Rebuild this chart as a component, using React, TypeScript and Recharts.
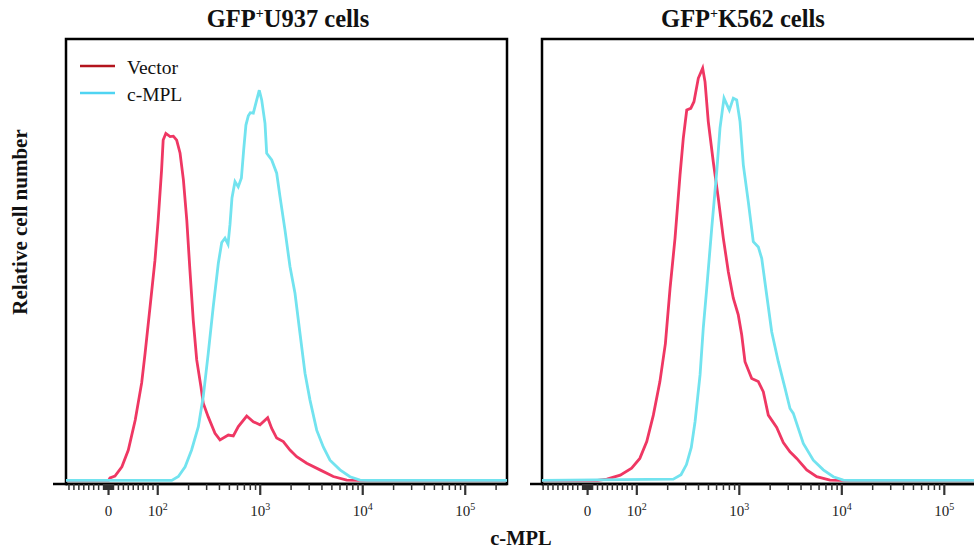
import { Line, LineChart, ReferenceArea, XAxis, YAxis } from "recharts";

// fluorescence intensity, relative cell number (0 = baseline, 100 = top of frame)
const U937_VECTOR: [number, number][] = [
  [-100, 0], [0, 0], [3, 0.6], [13, 1.0], [27, 3.1], [40, 6.9], [54, 13.7], [67, 22.1],
  [74, 28.9], [84, 39.4], [94, 49.9], [101, 59.0], [109, 70.3], [113, 77.1], [120, 78.6],
  [132, 77.9], [142, 78.0], [153, 77.1], [165, 74.2], [178, 68.1], [192, 59.0], [206, 47.7],
  [222, 36.3], [240, 27.3], [264, 21.2], [278, 17.5], [311, 14.4], [362, 10.7], [405, 9.2],
  [488, 10.3], [546, 10.1], [611, 12.2], [738, 14.6], [856, 13.3], [995, 12.6], [1182, 14.2],
  [1294, 11.8], [1447, 9.6], [1679, 8.8], [1952, 6.9], [2269, 5.4], [2840, 3.9], [3828, 2.4],
  [5161, 0.9], [6973, 0.1], [9404, 0], [300000, 0],
];

const U937_CMPL: [number, number][] = [
  [-100, 0], [137, 0], [159, 0.9], [185, 3.1], [214, 6.9], [249, 12.2], [278, 19.0], [311, 28.8],
  [348, 39.4], [390, 49.2], [421, 53.9], [453, 54.9], [485, 53.5], [507, 58.0], [530, 64.0],
  [567, 67.7], [610, 66.5], [655, 68.5], [690, 75.0], [725, 80.5], [765, 82.6], [800, 83.3],
  [856, 83.2], [924, 86.2], [979, 88.4], [1033, 86.2], [1113, 80.9], [1156, 74.1], [1294, 72.6],
  [1447, 69.6], [1559, 64.3], [1744, 56.7], [1952, 48.4], [2183, 42.4], [2443, 33.3],
  [2734, 24.3], [3058, 18.2], [3555, 11.4], [4123, 7.6], [4793, 4.6], [6000, 2.4], [7511, 0.85],
  [9404, 0.1], [11180, 0], [300000, 0],
];

const K562_VECTOR: [number, number][] = [
  [-100, 0], [20, 0], [39, 0.3], [66, 1.2], [89, 2.8], [107, 5.0], [125, 8.8], [145, 14.8],
  [168, 22.4], [190, 31.0], [211, 43.5], [236, 54.9], [264, 69.2], [284, 77.5], [307, 83.9],
  [336, 84.3], [361, 85.8], [398, 91.1], [439, 93.4], [463, 90.3], [498, 81.3], [557, 72.2],
  [624, 63.9], [698, 54.9], [781, 47.3], [874, 41.3], [977, 37.5], [1055, 33.0], [1136, 26.9],
  [1321, 23.1], [1532, 22.4], [1714, 20.1], [1918, 14.8], [2316, 12.0], [2686, 8.6],
  [3122, 6.5], [3630, 5.0], [4544, 2.4], [5689, 0.85], [7670, 0.1], [9602, 0], [300000, 0],
];

const K562_CMPL: [number, number][] = [
  [-100, 0], [227, 0.3], [270, 1.3], [305, 3.6], [340, 7.5], [370, 13.3], [414, 23.9],
  [445, 34.5], [481, 43.5], [538, 57.1], [602, 69.9], [648, 79.8], [709, 86.6], [799, 83.9],
  [874, 86.6], [943, 86.2], [1016, 81.3], [1094, 71.5], [1224, 63.1], [1369, 54.1],
  [1532, 52.9], [1654, 50.3], [1850, 42.0], [2070, 33.7], [2401, 26.9], [2791, 20.9],
  [3122, 16.3], [3364, 15.2], [4210, 8.4], [5271, 4.6], [6597, 2.4], [8259, 0.85],
  [10340, 0.1], [12000, 0], [300000, 0],
];

const MAJOR_TICKS = [0, 100, 1000, 10000, 100000];
const MINOR_STEPS = [1, 2, 3, 4, 5, 6, 7, 8, 9];
const DECADES = [1, 10, 100, 1000, 10000, 100000];

const VECTOR_COLOR = "#ef3763";
const CMPL_COLOR = "#72e3ef";
const FONT = "'Liberation Serif', 'Times New Roman', serif";
const AXIS_Y = 484;

// biexponential-like display transform: linear around zero, log10 above LIN
const LIN = 90;
const P0 = Math.log10(LIN) - 1 / Math.LN10;
function pos(v: number) {
  if (v >= LIN) return Math.log10(v);
  if (v <= -LIN) return 2 * P0 - Math.log10(-v);
  return P0 + v / (LIN * Math.LN10);
}

const T_SPAN = 441 / 102.5;

function buildTicks(tMin: number) {
  const vals: number[] = [...MAJOR_TICKS];
  DECADES.forEach((d) =>
    MINOR_STEPS.forEach((s) => {
      vals.push(d * s);
      if (d < 100) vals.push(-d * s);
    })
  );
  vals.push(200000);
  const ts = Array.from(new Set(vals)).map(pos);
  return ts.filter((t) => t >= tMin && t <= tMin + T_SPAN).sort((a, b) => a - b);
}

function AxisTick(props: any) {
  const { x, payload } = props;
  const major = MAJOR_TICKS.find((m) => Math.abs(pos(m) - payload.value) < 1e-6);
  const isMajor = major !== undefined;
  return (
    <g>
      <line
        x1={x}
        x2={x}
        y1={AXIS_Y}
        y2={AXIS_Y + (isMajor ? 11 : 6)}
        stroke="#333"
        strokeWidth={isMajor ? 2.2 : 1.5}
      />
      {isMajor && (
        <text x={x} y={AXIS_Y + 32} textAnchor="middle" fontFamily={FONT} fontSize={15} fill="#222">
          {major === 0 ? (
            "0"
          ) : (
            <>
              10
              <tspan dy={-6} fontSize={10}>
                {Math.round(Math.log10(major))}
              </tspan>
            </>
          )}
        </text>
      )}
    </g>
  );
}

function toRows(arr: [number, number][]) {
  return arr.map(([v, n]) => ({ t: pos(v), n }));
}

function Panel({
  left,
  tMin,
  vector,
  cmpl,
}: {
  left: number;
  tMin: number;
  vector: [number, number][];
  cmpl: [number, number][];
}) {
  const tMax = tMin + T_SPAN;
  return (
    <div style={{ position: "absolute", left, top: 0 }}>
      <LineChart width={520} height={530} margin={{ top: 39, right: 13, bottom: 16, left: 66 }}>
        <XAxis
          type="number"
          dataKey="t"
          domain={[tMin, tMax]}
          allowDataOverflow
          ticks={buildTicks(tMin)}
          interval={0}
          tickLine={false}
          tickSize={0}
          tickMargin={0}
          tick={<AxisTick />}
          height={30}
          axisLine={{ stroke: "#000", strokeWidth: 2.5 }}
        />
        <YAxis type="number" domain={[-0.8, 100]} hide width={0} allowDataOverflow />
        <ReferenceArea
          x1={tMin}
          x2={tMax}
          y1={-0.8}
          y2={100}
          fill="none"
          stroke="#000"
          strokeWidth={2.5}
          ifOverflow="visible"
        />
        <Line
          data={toRows(vector)}
          dataKey="n"
          type="linear"
          stroke={VECTOR_COLOR}
          strokeWidth={2.8}
          dot={false}
          isAnimationActive={false}
        />
        <Line
          data={toRows(cmpl)}
          dataKey="n"
          type="linear"
          stroke={CMPL_COLOR}
          strokeWidth={2.8}
          dot={false}
          isAnimationActive={false}
        />
      </LineChart>
    </div>
  );
}

export default function App() {
  return (
    <div
      style={{
        position: "absolute",
        left: 0,
        top: 0,
        width: 974,
        height: 550,
        overflow: "hidden",
        background: "#fff",
      }}
    >
      <Panel left={0} tMin={1.105} vector={U937_VECTOR} cmpl={U937_CMPL} />
      <Panel left={476} tMin={1.075} vector={K562_VECTOR} cmpl={K562_CMPL} />
      <svg
        width={974}
        height={550}
        style={{ position: "absolute", left: 0, top: 0, pointerEvents: "none" }}
        fontFamily={FONT}
      >
        <line x1={53} x2={67} y1={AXIS_Y} y2={AXIS_Y} stroke="#000" strokeWidth={2.5} />
        <line x1={530} x2={543} y1={AXIS_Y} y2={AXIS_Y} stroke="#000" strokeWidth={2.5} />
        <text x={288} y={27} textAnchor="middle" fontSize={24.5} fontWeight="bold" fill="#111">
          GFP
          <tspan dy={-9} fontSize={14}>
            +
          </tspan>
          <tspan dy={9}>U937 cells</tspan>
        </text>
        <text x={743} y={27} textAnchor="middle" fontSize={24.5} fontWeight="bold" fill="#111">
          GFP
          <tspan dy={-9} fontSize={14}>
            +
          </tspan>
          <tspan dy={9}>K562 cells</tspan>
        </text>
        <text
          transform="translate(27, 222) rotate(-90)"
          textAnchor="middle"
          fontSize={21}
          fontWeight="bold"
          fill="#111"
        >
          Relative cell number
        </text>
        <text x={521} y={545} textAnchor="middle" fontSize={20.5} fontWeight="bold" fill="#111">
          c-MPL
        </text>
        <line x1={80} x2={115} y1={66} y2={66} stroke="#b3141d" strokeWidth={2.5} />
        <text x={127} y={74} fontSize={19.5} fill="#111">
          Vector
        </text>
        <line x1={80} x2={115} y1={93} y2={93} stroke="#4fd4f2" strokeWidth={2.5} />
        <text x={127} y={101} fontSize={19.5} fill="#111">
          c-MPL
        </text>
      </svg>
    </div>
  );
}
